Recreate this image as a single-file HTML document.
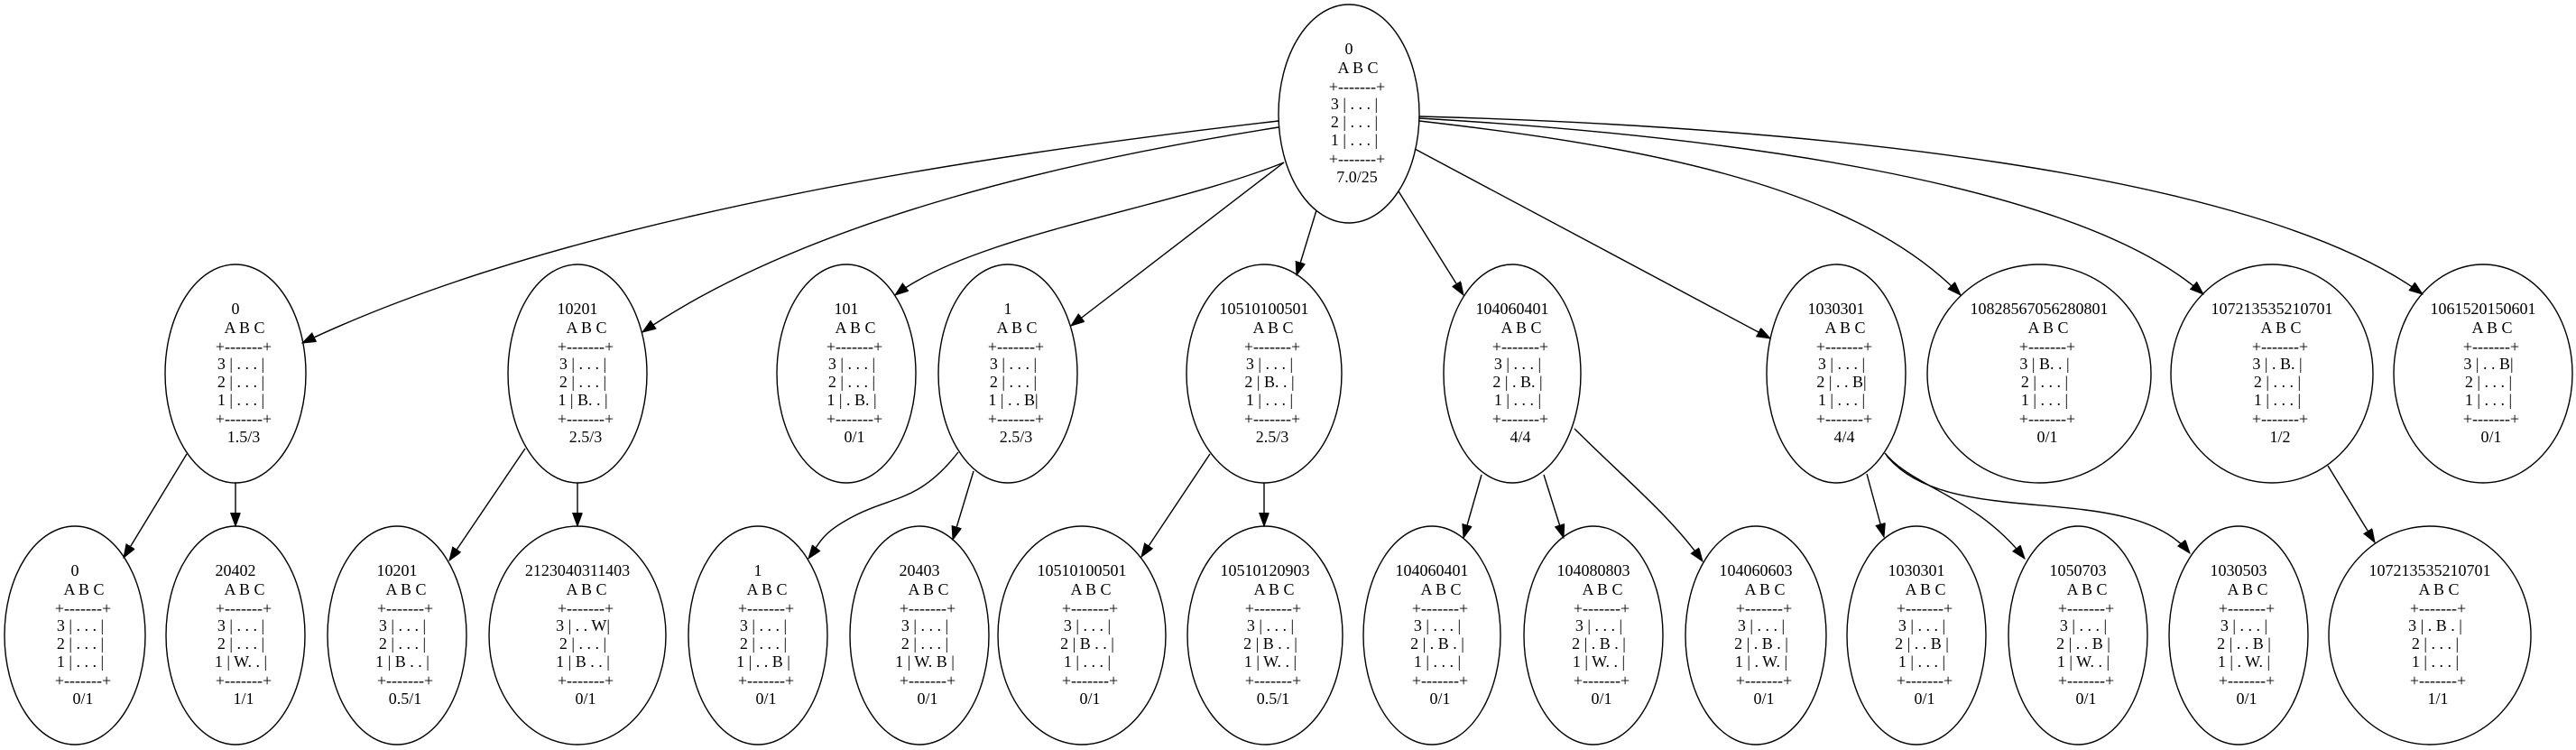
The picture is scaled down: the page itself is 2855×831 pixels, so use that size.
<!DOCTYPE html>
<html><head><meta charset="utf-8"><style>
html,body{margin:0;padding:0;background:#fff;}
svg{display:block;}
text{font-family:"Liberation Serif",serif;font-size:18px;fill:#000;white-space:pre;text-anchor:middle;}
ellipse{fill:none;stroke:#000;stroke-width:1.4;}
path{fill:none;stroke:#000;stroke-width:1.4;}
</style></head><body>
<svg width="2855" height="831" viewBox="0 0 2855 831" xmlns="http://www.w3.org/2000/svg">
<defs><marker id="a" markerUnits="userSpaceOnUse" markerWidth="16" markerHeight="12" refX="15" refY="5.5" orient="auto"><path d="M0,0 L15,5.5 L0,11 z" style="fill:#000;stroke:#000;stroke-width:1"/></marker></defs>

<!-- edges root -->
<path marker-end="url(#a)" d="M1417,134 C1150,165 650,230 335,380"/>
<path marker-end="url(#a)" d="M1417,141 C1200,175 900,240 712,368"/>
<path marker-end="url(#a)" d="M1423,180 C1300,230 1080,260 992,327"/>
<path marker-end="url(#a)" d="M1423,180 L1187,361"/>
<path marker-end="url(#a)" d="M1459,233 L1437,305"/>
<path marker-end="url(#a)" d="M1550,212 L1622,327"/>
<path marker-end="url(#a)" d="M1568,165 L1962,375"/>
<path marker-end="url(#a)" d="M1573,134 C1800,160 2050,200 2173,327"/>
<path marker-end="url(#a)" d="M1573,131 C1900,150 2300,200 2442,326"/>
<path marker-end="url(#a)" d="M1573,129 C2000,140 2500,190 2685,326"/>
<!-- level1 -> level2 -->
<path marker-end="url(#a)" d="M207,503 L137,618"/>
<path marker-end="url(#a)" d="M261,535 L261,583"/>
<path marker-end="url(#a)" d="M582,497 L498,621"/>
<path marker-end="url(#a)" d="M640,535 L640,583"/>
<path marker-end="url(#a)" d="M1062,501 C1020,555 990,550 950,570 S910,600 896,619"/>
<path marker-end="url(#a)" d="M1079,522 L1056,598"/>
<path marker-end="url(#a)" d="M1341,503 L1265,617"/>
<path marker-end="url(#a)" d="M1401,535 L1401,583"/>
<path marker-end="url(#a)" d="M1642,526 L1622,596"/>
<path marker-end="url(#a)" d="M1711,526 L1733,596"/>
<path marker-end="url(#a)" d="M1745,475 C1800,530 1850,570 1887,622"/>
<path marker-end="url(#a)" d="M2069,525 L2088,595"/>
<path marker-end="url(#a)" d="M2089,502 C2120,540 2190,550 2244,619"/>
<path marker-end="url(#a)" d="M2091,505 C2160,590 2360,530 2427,613"/>
<path marker-end="url(#a)" d="M2580,516 L2632,601"/>

<!-- nodes -->
<g transform="translate(1495,126)"><ellipse rx="78" ry="121"/><text x="0" y="-66">0</text><text x="10" y="-45">A B C</text><text x="9" y="-24">+-------+</text><text x="6" y="-5">3 | . . . |</text><text x="6" y="15">2 | . . . |</text><text x="6" y="35">1 | . . . |</text><text x="9" y="56">+-------+</text><text x="9" y="76">7.0/25</text></g>

<g transform="translate(261,414)"><ellipse rx="78" ry="121"/><text x="0" y="-66">0</text><text x="10" y="-45">A B C</text><text x="9" y="-24">+-------+</text><text x="6" y="-5">3 | . . . |</text><text x="6" y="15">2 | . . . |</text><text x="6" y="35">1 | . . . |</text><text x="9" y="56">+-------+</text><text x="9" y="76">1.5/3</text></g>
<g transform="translate(640,414)"><ellipse rx="77" ry="121"/><text x="0" y="-66">10201</text><text x="10" y="-45">A B C</text><text x="9" y="-24">+-------+</text><text x="6" y="-5">3 | . . . |</text><text x="6" y="15">2 | . . . |</text><text x="6" y="35">1 | B. . |</text><text x="9" y="56">+-------+</text><text x="9" y="76">2.5/3</text></g>
<g transform="translate(938,414)"><ellipse rx="77" ry="121"/><text x="0" y="-66">101</text><text x="10" y="-45">A B C</text><text x="9" y="-24">+-------+</text><text x="6" y="-5">3 | . . . |</text><text x="6" y="15">2 | . . . |</text><text x="6" y="35">1 | . B. |</text><text x="9" y="56">+-------+</text><text x="9" y="76">0/1</text></g>
<g transform="translate(1117,414)"><ellipse rx="77" ry="121"/><text x="0" y="-66">1</text><text x="10" y="-45">A B C</text><text x="9" y="-24">+-------+</text><text x="6" y="-5">3 | . . . |</text><text x="6" y="15">2 | . . . |</text><text x="6" y="35">1 | . . B|</text><text x="9" y="56">+-------+</text><text x="9" y="76">2.5/3</text></g>
<g transform="translate(1401,414)"><ellipse rx="86" ry="121"/><text x="0" y="-66">10510100501</text><text x="10" y="-45">A B C</text><text x="9" y="-24">+-------+</text><text x="6" y="-5">3 | . . . |</text><text x="6" y="15">2 | B. . |</text><text x="6" y="35">1 | . . . |</text><text x="9" y="56">+-------+</text><text x="9" y="76">2.5/3</text></g>
<g transform="translate(1676,414)"><ellipse rx="76" ry="121"/><text x="0" y="-66">104060401</text><text x="10" y="-45">A B C</text><text x="9" y="-24">+-------+</text><text x="6" y="-5">3 | . . . |</text><text x="6" y="15">2 | . B. |</text><text x="6" y="35">1 | . . . |</text><text x="9" y="56">+-------+</text><text x="9" y="76">4/4</text></g>
<g transform="translate(2035,414)"><ellipse rx="77" ry="121"/><text x="0" y="-66">1030301</text><text x="10" y="-45">A B C</text><text x="9" y="-24">+-------+</text><text x="6" y="-5">3 | . . . |</text><text x="6" y="15">2 | . . B|</text><text x="6" y="35">1 | . . . |</text><text x="9" y="56">+-------+</text><text x="9" y="76">4/4</text></g>
<g transform="translate(2260,414)"><ellipse rx="124" ry="121"/><text x="0" y="-66">10828567056280801</text><text x="10" y="-45">A B C</text><text x="9" y="-24">+-------+</text><text x="6" y="-5">3 | B. . |</text><text x="6" y="15">2 | . . . |</text><text x="6" y="35">1 | . . . |</text><text x="9" y="56">+-------+</text><text x="9" y="76">0/1</text></g>
<g transform="translate(2518,414)"><ellipse rx="112" ry="121"/><text x="0" y="-66">107213535210701</text><text x="10" y="-45">A B C</text><text x="9" y="-24">+-------+</text><text x="6" y="-5">3 | . B. |</text><text x="6" y="15">2 | . . . |</text><text x="6" y="35">1 | . . . |</text><text x="9" y="56">+-------+</text><text x="9" y="76">1/2</text></g>
<g transform="translate(2752,414)"><ellipse rx="99" ry="121"/><text x="0" y="-66">1061520150601</text><text x="10" y="-45">A B C</text><text x="9" y="-24">+-------+</text><text x="6" y="-5">3 | . . B|</text><text x="6" y="15">2 | . . . |</text><text x="6" y="35">1 | . . . |</text><text x="9" y="56">+-------+</text><text x="9" y="76">0/1</text></g>

<g transform="translate(83,704)"><ellipse rx="78" ry="121"/><text x="0" y="-66">0</text><text x="10" y="-45">A B C</text><text x="9" y="-24">+-------+</text><text x="6" y="-5">3 | . . . |</text><text x="6" y="15">2 | . . . |</text><text x="6" y="35">1 | . . . |</text><text x="9" y="56">+-------+</text><text x="9" y="76">0/1</text></g>
<g transform="translate(261,704)"><ellipse rx="77" ry="121"/><text x="0" y="-66">20402</text><text x="10" y="-45">A B C</text><text x="9" y="-24">+-------+</text><text x="6" y="-5">3 | . . . |</text><text x="6" y="15">2 | . . . |</text><text x="6" y="35">1 | W. . |</text><text x="9" y="56">+-------+</text><text x="9" y="76">1/1</text></g>
<g transform="translate(440,704)"><ellipse rx="77" ry="121"/><text x="0" y="-66">10201</text><text x="10" y="-45">A B C</text><text x="9" y="-24">+-------+</text><text x="6" y="-5">3 | . . . |</text><text x="6" y="15">2 | . . . |</text><text x="6" y="35">1 | B . . |</text><text x="9" y="56">+-------+</text><text x="9" y="76">0.5/1</text></g>
<g transform="translate(640,704)"><ellipse rx="98" ry="121"/><text x="0" y="-66">2123040311403</text><text x="10" y="-45">A B C</text><text x="9" y="-24">+-------+</text><text x="6" y="-5">3 | . . W|</text><text x="6" y="15">2 | . . . |</text><text x="6" y="35">1 | B . . |</text><text x="9" y="56">+-------+</text><text x="9" y="76">0/1</text></g>
<g transform="translate(840,704)"><ellipse rx="77" ry="121"/><text x="0" y="-66">1</text><text x="10" y="-45">A B C</text><text x="9" y="-24">+-------+</text><text x="6" y="-5">3 | . . . |</text><text x="6" y="15">2 | . . . |</text><text x="6" y="35">1 | . . B |</text><text x="9" y="56">+-------+</text><text x="9" y="76">0/1</text></g>
<g transform="translate(1019,704)"><ellipse rx="77" ry="121"/><text x="0" y="-66">20403</text><text x="10" y="-45">A B C</text><text x="9" y="-24">+-------+</text><text x="6" y="-5">3 | . . . |</text><text x="6" y="15">2 | . . . |</text><text x="6" y="35">1 | W. B |</text><text x="9" y="56">+-------+</text><text x="9" y="76">0/1</text></g>
<g transform="translate(1199,704)"><ellipse rx="93" ry="121"/><text x="0" y="-66">10510100501</text><text x="10" y="-45">A B C</text><text x="9" y="-24">+-------+</text><text x="6" y="-5">3 | . . . |</text><text x="6" y="15">2 | B . . |</text><text x="6" y="35">1 | . . . |</text><text x="9" y="56">+-------+</text><text x="9" y="76">0/1</text></g>
<g transform="translate(1402,704)"><ellipse rx="86" ry="121"/><text x="0" y="-66">10510120903</text><text x="10" y="-45">A B C</text><text x="9" y="-24">+-------+</text><text x="6" y="-5">3 | . . . |</text><text x="6" y="15">2 | B . . |</text><text x="6" y="35">1 | W. . |</text><text x="9" y="56">+-------+</text><text x="9" y="76">0.5/1</text></g>
<g transform="translate(1587,704)"><ellipse rx="76" ry="121"/><text x="0" y="-66">104060401</text><text x="10" y="-45">A B C</text><text x="9" y="-24">+-------+</text><text x="6" y="-5">3 | . . . |</text><text x="6" y="15">2 | . B . |</text><text x="6" y="35">1 | . . . |</text><text x="9" y="56">+-------+</text><text x="9" y="76">0/1</text></g>
<g transform="translate(1766,704)"><ellipse rx="77" ry="121"/><text x="0" y="-66">104080803</text><text x="10" y="-45">A B C</text><text x="9" y="-24">+-------+</text><text x="6" y="-5">3 | . . . |</text><text x="6" y="15">2 | . B . |</text><text x="6" y="35">1 | W. . |</text><text x="9" y="56">+-------+</text><text x="9" y="76">0/1</text></g>
<g transform="translate(1946,704)"><ellipse rx="78" ry="121"/><text x="0" y="-66">104060603</text><text x="10" y="-45">A B C</text><text x="9" y="-24">+-------+</text><text x="6" y="-5">3 | . . . |</text><text x="6" y="15">2 | . B . |</text><text x="6" y="35">1 | . W. |</text><text x="9" y="56">+-------+</text><text x="9" y="76">0/1</text></g>
<g transform="translate(2124,704)"><ellipse rx="77" ry="121"/><text x="0" y="-66">1030301</text><text x="10" y="-45">A B C</text><text x="9" y="-24">+-------+</text><text x="6" y="-5">3 | . . . |</text><text x="6" y="15">2 | . . B |</text><text x="6" y="35">1 | . . . |</text><text x="9" y="56">+-------+</text><text x="9" y="76">0/1</text></g>
<g transform="translate(2303,704)"><ellipse rx="77" ry="121"/><text x="0" y="-66">1050703</text><text x="10" y="-45">A B C</text><text x="9" y="-24">+-------+</text><text x="6" y="-5">3 | . . . |</text><text x="6" y="15">2 | . . B |</text><text x="6" y="35">1 | W. . |</text><text x="9" y="56">+-------+</text><text x="9" y="76">0/1</text></g>
<g transform="translate(2481,704)"><ellipse rx="77" ry="121"/><text x="0" y="-66">1030503</text><text x="10" y="-45">A B C</text><text x="9" y="-24">+-------+</text><text x="6" y="-5">3 | . . . |</text><text x="6" y="15">2 | . . B |</text><text x="6" y="35">1 | . W. |</text><text x="9" y="56">+-------+</text><text x="9" y="76">0/1</text></g>
<g transform="translate(2693,704)"><ellipse rx="112" ry="121"/><text x="0" y="-66">107213535210701</text><text x="10" y="-45">A B C</text><text x="9" y="-24">+-------+</text><text x="6" y="-5">3 | . B . |</text><text x="6" y="15">2 | . . . |</text><text x="6" y="35">1 | . . . |</text><text x="9" y="56">+-------+</text><text x="9" y="76">1/1</text></g>
</svg>
</body></html>
